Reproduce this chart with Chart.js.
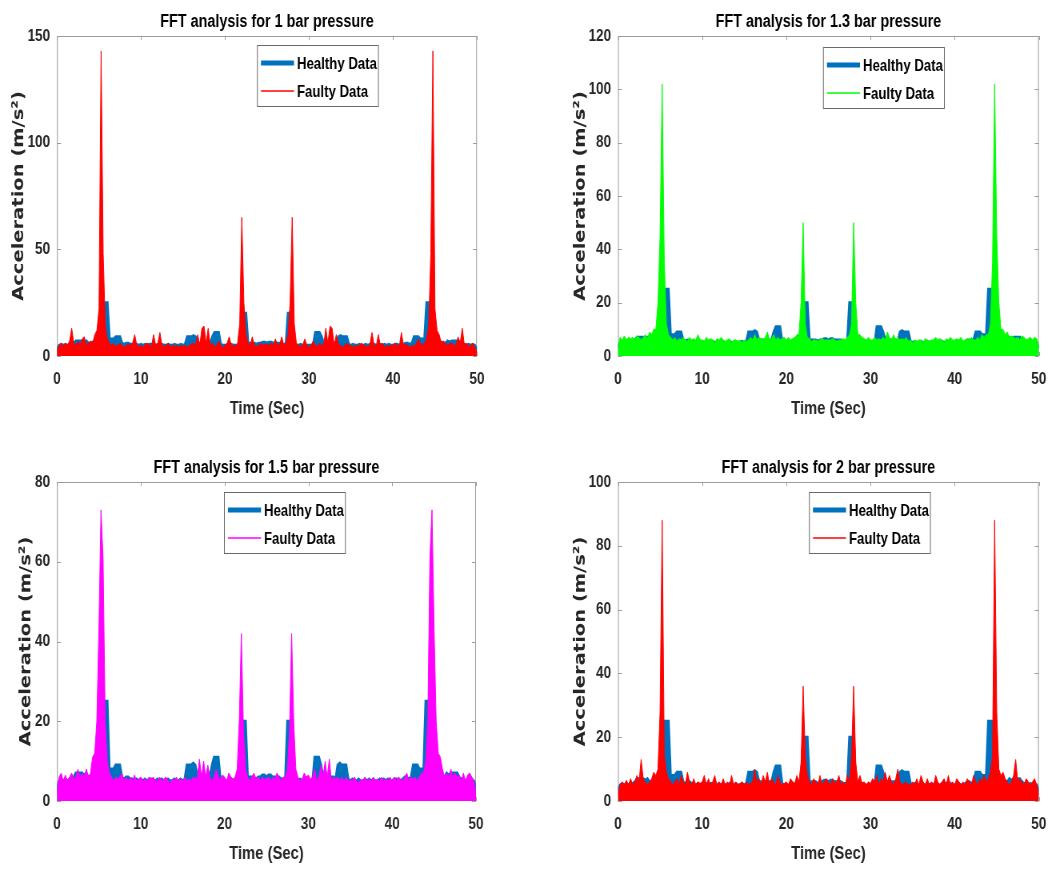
<!DOCTYPE html>
<html>
<head>
<meta charset="utf-8">
<title>FFT analysis</title>
<script src="https://cdn.jsdelivr.net/npm/chart.js@4.4.1/dist/chart.umd.min.js"></script>
<style>
  body { margin: 0; background: #fff; }
  #page { position: relative; width: 1057px; height: 870px; overflow: hidden; background: #fff; }
  #page canvas { position: absolute; transform-origin: 0 0; }
</style>
</head>
<body>
<div id="page">
  <canvas id="chart1"></canvas>
  <canvas id="chart2"></canvas>
  <canvas id="chart3"></canvas>
  <canvas id="chart4"></canvas>
</div>
<script>
// sample spacing of the series below (seconds)
const TIME_STEP = 0.25;
const X_MAX = 50;
const X_TICK_STEP = 10;

const panelTitles = [
    'FFT analysis for 1 bar pressure',
    'FFT analysis for 1.3 bar pressure',
    'FFT analysis for 1.5 bar pressure',
    'FFT analysis for 2 bar pressure'
];
const yMaxValues = [150, 120, 80, 100];
const yTickSteps = [50, 20, 20, 20];
const seriesLabels = ['Healthy Data', 'Faulty Data'];
const xAxisTitle = 'Time (Sec)';
const yAxisTitle = 'Acceleration (m/s\u00B2)';

// healthy spectrum (same in every panel), one value per 0.25 s from 0 to 50
const healthyData = [
    3, 5, 5.5, 5, 5.5, 5, 5.5, 5.5, 6, 7, 7, 7, 7, 6.5, 7, 6, 6, 6.5, 7, 7,
    5, 4, 25, 25, 25, 8, 8, 8, 9, 9, 9, 6, 5.5, 6, 6, 5.5, 5.5, 5, 5.5, 5,
    5.5, 5, 5.5, 5, 5.5, 5.5, 5, 5, 5.5, 5, 5.5, 5, 5, 5.5, 5, 5, 5.5, 5, 5, 5.5,
    5, 5.5, 9, 9, 9, 9.5, 9, 6, 6, 6, 6, 5.5, 6, 6, 9, 11, 11, 11, 5.5, 5,
    5, 5, 5, 5.5, 5, 5, 5, 5.5, 20, 20, 20, 6, 6, 6, 6, 5.5, 6, 6, 6.5, 6.5,
    6, 6.5, 6.5, 6, 6, 6, 6, 5.5, 5.5, 5.5, 20, 20, 20, 5, 5, 5, 5.5, 5, 5, 5,
    5, 5, 5, 11, 11, 11, 9, 6, 6, 6, 6, 6, 6, 5.5, 9, 9.5, 9, 9, 9, 5.5,
    5, 5.5, 5, 5, 5.5, 5, 5, 5.5, 5, 5.5, 5, 5.5, 5, 5, 5.5, 5, 5.5, 5, 5.5, 5,
    5, 5.5, 5.5, 5, 5, 5.5, 6, 6, 5.5, 6, 9, 9, 9, 8, 8, 8, 25, 25, 25, 4,
    5, 7, 7, 6.5, 6, 6, 7, 6.5, 7, 7, 7, 7, 6, 5.5, 5.5, 5, 5.5, 5, 5.5, 5,
    3
];

// faulty spectra, same sampling
const faulty1Bar = [
    2, 5, 6, 4.5, 6, 5, 7, 13, 6, 5, 7, 5, 8, 9, 5, 6, 7, 6, 10, 12,
    22, 143, 48, 14, 8, 6, 5, 6, 4.5, 5, 6, 5, 4, 5, 5.5, 5, 6, 10, 5, 4.5,
    5, 4, 5.5, 6, 5, 4.5, 10, 5, 6, 11, 5, 4.5, 5, 6, 4, 5, 4.5, 5, 4, 5,
    4.5, 5, 4, 5, 5.5, 6, 5, 10, 5, 13, 14, 6, 13, 5, 6, 4.5, 5, 7, 5, 4,
    5, 6, 9, 5, 5, 4.5, 6, 15, 65, 25, 10, 6, 5, 9, 5, 4.5, 5, 6, 5, 5.5,
    5.5, 5, 6, 5, 8, 5, 5, 9, 5, 6, 10, 25, 65, 15, 6, 5, 4.5, 5, 8, 5,
    4, 5, 7, 5, 4.5, 6, 5, 5, 13, 6, 14, 13, 5, 10, 5.5, 5, 4, 5, 6, 5,
    5, 4, 5, 4.5, 5, 6, 5, 5, 4, 5.5, 11, 5, 4.5, 10, 5, 6, 4, 5, 4.5, 5,
    5, 6, 5, 4.5, 11, 5, 5.5, 5, 4, 5, 4.5, 5.5, 8, 6, 5, 6, 8, 14, 48, 143,
    22, 12, 10, 6, 7, 6, 5, 6, 6, 5, 5, 9, 6, 13, 5, 6, 4.5, 5, 6, 4,
    2
];
const faulty13Bar = [
    3, 7, 6, 7.5, 6, 7, 6.5, 7, 6, 7.5, 7, 6, 7, 8, 6.5, 9, 8, 10, 10, 20,
    45, 102, 35, 12, 8, 7, 6, 7, 5.5, 6.5, 6, 7, 6, 5.5, 7, 6, 6.5, 6, 8, 6,
    6, 5.5, 7, 6, 6.5, 6, 5, 6.5, 6, 7, 6, 5.5, 6, 6.5, 5, 6, 6, 5.5, 6, 5,
    6, 5.5, 6, 7, 6, 8, 6, 7, 6.5, 6, 7, 9, 6, 6.5, 8, 6, 7, 6, 6.5, 7,
    6, 7, 6, 6.5, 7, 8, 8, 20, 50, 12, 7, 6.5, 5.5, 6, 6, 5.5, 6, 6.5, 6, 6,
    6, 6, 6.5, 6, 5.5, 6, 6, 6.5, 6, 7, 8, 12, 50, 20, 8, 8, 7, 6.5, 6, 7,
    6, 6, 7, 6, 6.5, 6, 7, 6, 9, 7, 6, 8, 6, 7, 6, 6.5, 6, 7, 5.5, 6,
    5, 6, 5.5, 6, 6, 5, 6.5, 6, 5.5, 6, 6, 7, 6, 6.5, 6, 5, 6.5, 6, 7, 6,
    6, 6.5, 6, 7, 5.5, 6, 6.5, 6, 7, 6, 6, 7, 6, 8, 7, 8, 8, 12, 35, 102,
    45, 20, 10, 10, 8, 9, 7, 7.5, 7, 6.5, 7, 6, 7.5, 7, 6, 6.5, 7, 6, 7, 6.5,
    3
];
const faulty15Bar = [
    2, 6, 7, 5, 6.5, 5, 6, 7, 5.5, 6, 8, 6, 7, 6, 8, 6, 7, 11, 12, 20,
    43, 73, 61, 20, 10, 7, 6, 5, 6, 5.5, 6, 7, 5, 6, 5, 6, 5, 6.5, 5, 5.5,
    6, 5, 5.5, 5, 6, 5.5, 6, 5, 5, 6, 5, 5.5, 6, 5, 4.5, 5.5, 5, 6, 5, 5.5,
    5, 6, 5, 5.5, 5, 6, 5.5, 6, 10.5, 6, 10, 6, 9, 6, 5, 6, 8, 6, 5.5, 6.5,
    6, 5, 7, 6, 5.5, 6, 8, 20, 42, 18, 8, 6, 5, 6, 7, 5.5, 6, 5, 6, 5.5,
    5.5, 6, 5, 6, 5.5, 7, 6, 5, 6, 6, 8, 18, 42, 20, 8, 6, 5, 5.5, 7, 6,
    6.5, 5.5, 6, 8, 5, 6, 9, 6, 10, 6, 10.5, 5, 6, 5.5, 6, 5, 6, 5, 6, 5,
    5.5, 5, 6, 5, 4.5, 5.5, 5, 6, 5, 5.5, 5, 6, 5, 5.5, 5, 6, 5, 5.5, 5, 6,
    5, 6, 5, 6, 5.5, 5, 6, 7, 5, 6, 5.5, 6, 5, 6, 7, 7, 10, 20, 61, 73,
    43, 20, 12, 11, 8, 6, 7, 6, 8, 6, 7, 6, 6.5, 5, 7, 5, 6.5, 7, 6, 5,
    2
];
const faulty2Bar = [
    2, 5, 6, 5, 6.5, 5, 7, 5, 6, 8, 6, 13, 7, 6, 5, 6, 7, 9, 8, 10,
    28, 88, 14, 9, 7, 6, 5, 6, 7, 5, 8, 6, 5, 9, 6, 5, 7, 5, 6, 5.5,
    6, 8, 5, 7, 5, 6, 8, 5, 6, 5, 7, 5, 6, 5, 8, 5, 6, 5, 5.5, 6,
    5, 6, 5, 5.5, 6, 10, 6, 7, 5, 8, 6, 9, 5, 7, 6, 5, 8, 6, 5, 5.5,
    6, 5, 7, 6, 5.5, 8, 6, 12, 36, 14, 8, 6, 5, 7, 6, 5, 8, 5, 6, 7,
    6, 5, 7, 5.5, 6, 8, 5, 6, 5, 8, 6, 14, 36, 12, 6, 8, 5.5, 6, 5, 6,
    5.5, 7, 6, 8, 5, 7, 6, 9, 6, 8, 6, 5, 7, 10, 6, 5, 5.5, 6, 5, 5,
    6, 5, 7, 5, 8, 6, 5, 7, 5, 6, 5, 8, 6, 5, 6, 7, 5, 8, 5, 6,
    5, 7, 6, 5, 6, 5, 7, 6, 5, 8, 6, 5, 7, 6, 8, 6, 7, 9, 14, 88,
    28, 10, 8, 9, 7, 6, 5, 6, 8, 13, 6, 7, 6, 5, 7, 6, 5, 6, 7, 5,
    2
];
const faultyData = [faulty1Bar, faulty13Bar, faulty15Bar, faulty2Bar];

const healthyColor = '#0072bd';
const faultyColors = ['#ff0000', '#00ff00', '#ff00ff', '#ff0000'];

// the figure is squeezed sideways, like the original picture
const SQUEEZE = 0.8;

// page layout (page px): canvas box [left, top, width, height], plot area [left, top, right, bottom],
// legend offset inside the plot area, distance of the y label centre from the axis
const panelLayout = [
    { box: [0, 0, 528, 430], area: [57, 36, 477, 356], legend: [200, 9], yTitleGap: 37.5 },
    { box: [528, 0, 529, 430], area: [618, 36, 1042, 356], legend: [205, 11], yTitleGap: 37.5 },
    { box: [0, 440, 528, 430], area: [57, 482, 476, 801], legend: [167, 10], yTitleGap: 31 },
    { box: [528, 440, 529, 430], area: [618, 482, 1042, 801], legend: [191, 10], yTitleGap: 37.5 }
];

const X_AXIS_H = 64;
const TITLE_H = 36;
const Y_TITLE_SIZE = 19.5;
const textFont = "'Liberation Sans', Arial, sans-serif";
const yTitleFont = "'DejaVu Sans', sans-serif";
const textColor = '#262626';

function toPoints(values) {
    return values.map(function (v, i) {
        return { x: i * TIME_STEP, y: v };
    });
}

// MATLAB style box with inward ticks and the legend inside the axes
const matlabAxes = {
    id: 'matlabAxes',
    beforeDatasetsDraw: function (chart) {
        const ctx = chart.ctx;
        const a = chart.chartArea;
        const xs = chart.scales.x;
        const ys = chart.scales.y;
        ctx.save();
        ctx.strokeStyle = '#9c9c9c';
        ctx.lineWidth = 1;
        ctx.strokeRect(a.left + 0.5, a.top + 0.5, a.right - a.left - 1, a.bottom - a.top - 1);
        ctx.beginPath();
        xs.ticks.forEach(function (t) {
            const px = Math.round(xs.getPixelForValue(t.value)) + 0.5;
            ctx.moveTo(px, a.bottom); ctx.lineTo(px, a.bottom - 4);
            ctx.moveTo(px, a.top); ctx.lineTo(px, a.top + 4);
        });
        ys.ticks.forEach(function (t) {
            const py = Math.round(ys.getPixelForValue(t.value)) + 0.5;
            ctx.moveTo(a.left, py); ctx.lineTo(a.left + 5, py);
            ctx.moveTo(a.right, py); ctx.lineTo(a.right - 5, py);
        });
        ctx.stroke();
        ctx.restore();
    },
    afterDraw: function (chart, args, opts) {
        const ctx = chart.ctx;
        const a = chart.chartArea;
        const sx = 1 / SQUEEZE;
        const lx = a.left + opts.legendAt[0] * sx;
        const ly = a.top + opts.legendAt[1];
        ctx.save();
        ctx.fillStyle = '#ffffff';
        ctx.fillRect(lx, ly, 121 * sx, 61);
        ctx.strokeStyle = '#6a6a6a';
        ctx.lineWidth = 1;
        ctx.strokeRect(lx + 0.5, ly + 0.5, 121 * sx, 61);
        ctx.font = 'bold 16.5px ' + textFont;
        ctx.textBaseline = 'middle';
        ctx.textAlign = 'left';
        chart.data.datasets.forEach(function (ds, i) {
            const rowY = ly + 18 + i * 28;
            ctx.strokeStyle = ds.borderColor;
            ctx.lineWidth = i === 0 ? 5 : 1.5;
            ctx.beginPath();
            ctx.moveTo(lx + 4 * sx, rowY);
            ctx.lineTo(lx + 37 * sx, rowY);
            ctx.stroke();
            ctx.fillStyle = '#000';
            ctx.fillText(ds.label, lx + 40 * sx, rowY + 1);
        });
        ctx.restore();
    }
};

function makePanel(index) {
    const layout = panelLayout[index];
    const canvas = document.getElementById('chart' + (index + 1));
    const cw = Math.round(layout.box[2] / SQUEEZE);
    canvas.width = cw;
    canvas.height = layout.box[3];
    canvas.style.left = layout.box[0] + 'px';
    canvas.style.top = layout.box[1] + 'px';
    canvas.style.transform = 'scaleX(' + SQUEEZE + ')';

    // plot area in canvas units
    const areaLeft = (layout.area[0] - layout.box[0]) / SQUEEZE;
    const areaRight = (layout.area[2] - layout.box[0]) / SQUEEZE;
    const yAxisW = layout.yTitleGap / SQUEEZE + Y_TITLE_SIZE * 0.6;

    const padding = {
        left: areaLeft - yAxisW,
        right: cw - areaRight,
        top: layout.area[1] - layout.box[1] - TITLE_H,
        bottom: layout.box[1] + layout.box[3] - layout.area[3] - X_AXIS_H
    };

    return new Chart(canvas, {
        type: 'line',
        data: {
            datasets: [{
                label: seriesLabels[0],
                data: toPoints(healthyData),
                borderColor: healthyColor,
                backgroundColor: healthyColor,
                borderWidth: 3,
                fill: 'origin',
                order: 2
            }, {
                label: seriesLabels[1],
                data: toPoints(faultyData[index]),
                borderColor: faultyColors[index],
                backgroundColor: faultyColors[index],
                borderWidth: 1,
                fill: 'origin',
                order: 1
            }]
        },
        plugins: [matlabAxes],
        options: {
            responsive: false,
            devicePixelRatio: 1,
            animation: false,
            events: [],
            elements: { point: { radius: 0 }, line: { tension: 0 } },
            layout: { padding: padding, autoPadding: false },
            scales: {
                x: {
                    type: 'linear',
                    min: 0,
                    max: X_MAX,
                    grid: { display: false, drawTicks: false },
                    border: { display: false },
                    ticks: {
                        stepSize: X_TICK_STEP,
                        padding: 13,
                        color: textColor,
                        maxRotation: 0,
                        font: { family: textFont, size: 17, weight: 'bold' }
                    },
                    title: {
                        display: true,
                        text: xAxisTitle,
                        color: textColor,
                        padding: 0,
                        font: { family: textFont, size: 18.5, weight: 'bold', lineHeight: 1.2 }
                    },
                    afterFit: function (scale) { scale.height = X_AXIS_H; }
                },
                y: {
                    min: 0,
                    max: yMaxValues[index],
                    grid: { display: false, drawTicks: false },
                    border: { display: false },
                    ticks: {
                        stepSize: yTickSteps[index],
                        padding: 8.5,
                        color: textColor,
                        font: { family: textFont, size: 17, weight: 'bold' }
                    },
                    title: {
                        display: true,
                        text: yAxisTitle,
                        color: textColor,
                        padding: 0,
                        font: { family: yTitleFont, size: Y_TITLE_SIZE, weight: 'bold', lineHeight: 1.2 }
                    },
                    afterFit: function (scale) { scale.width = yAxisW; }
                }
            },
            plugins: {
                legend: { display: false },
                tooltip: { enabled: false },
                title: {
                    display: true,
                    text: panelTitles[index],
                    fullSize: false,
                    color: '#000',
                    padding: { top: 11, bottom: 3.4 },
                    font: { family: textFont, size: 18, weight: 'bold', lineHeight: 1.2 }
                },
                matlabAxes: {
                    legendAt: layout.legend
                }
            }
        }
    });
}

document.addEventListener('DOMContentLoaded', function () {
    for (let i = 0; i < panelTitles.length; i++) {
        makePanel(i);
    }
});
</script>
</body>
</html>
